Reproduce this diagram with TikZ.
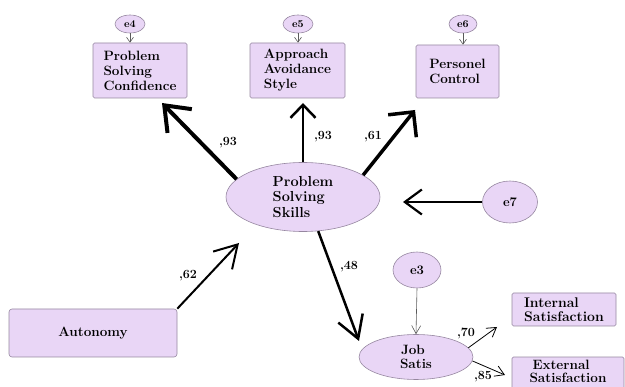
\documentclass[tikz,border=0pt]{standalone}
\usepackage{fontspec}
\usetikzlibrary{shapes.geometric,arrows.meta}
\definecolor{boxfill}{RGB}{233,214,246}
\definecolor{boxline}{RGB}{150,135,160}
\definecolor{thinline}{RGB}{90,90,90}
\newcommand\dgfont[2]{\bfseries\fontsize{#1}{#2}\selectfont\addfontfeatures{LetterSpace=6}}
\tikzset{
  box/.style={draw=boxline, fill=boxfill, rounded corners=1.5pt, line width=0.6pt,
    align=left, inner sep=0pt, font=\dgfont{13.5}{15}},
  lat/.style={ellipse, draw=boxline, fill=boxfill, line width=0.6pt, inner sep=0pt,
    align=left, font=\dgfont{14.5}{15.5}},
  errsmall/.style={ellipse, draw=boxline, fill=boxfill, line width=0.6pt, inner sep=0pt,
    minimum width=30pt, minimum height=18pt, font=\dgfont{10.5}{12}},
  coef/.style={font=\dgfont{12.5}{14}, inner sep=0pt},
  thinarrow/.style={draw=thinline, line width=0.6pt, -{Straight Barb[length=5pt,width=7pt]}},
  midarrow/.style={line width=0.8pt, -{Straight Barb[length=9pt,width=11pt]}}
}
\begin{document}
\begin{tikzpicture}[x=1pt,y=-1pt]
\useasboundingbox (0,0) rectangle (625,387);
% observed boxes
\node[box, minimum width=94pt, minimum height=55pt] (psc) at (140,70.5) {Problem\\Solving\\Confidence};
\node[box, minimum width=95pt, minimum height=55pt] (aas) at (297.5,70.5) {Approach\\Avoidance\\Style};
\node[box, minimum width=83pt, minimum height=53pt] (pc) at (457.5,71.5) {Personel\\Control};
\node[box, rounded corners=3pt, minimum width=168pt, minimum height=48pt] (auto) at (93,333) {Autonomy};
\node[box, font=\dgfont{14}{14}, minimum width=104pt, minimum height=33pt] (is) at (564,309.5) {Internal\\Satisfaction};
% External Satisfaction box runs off the bottom edge
\fill[boxfill] (512,357) rectangle (624,392);
\draw[boxline, line width=0.6pt, rounded corners=1.5pt] (512,392) -- (512,357) -- (624,357) -- (624,392);
\node[box, draw=none, fill=none, font=\dgfont{13.5}{13}, minimum width=112pt, minimum height=29pt, anchor=north] (es) at (568,357)
  {\hspace*{3pt}External\\Satisfaction};
% latent / error ellipses
\node[lat, minimum width=154pt, minimum height=69pt] (pss) at (303,197) {Problem\\Solving\\Skills};
\node[lat, font=\dgfont{13.5}{14}, minimum width=114pt, minimum height=45pt] (js) at (416,357) {\hspace*{1pt}Job\\Satis};
\node[lat, font=\dgfont{13}{15}, minimum width=55pt, minimum height=42pt] (e7) at (510,202) {e7};
\node[lat, font=\dgfont{13}{15}, minimum width=48pt, minimum height=36pt] (e3) at (417,270) {e3};
\node[errsmall] (e4) at (130,24) {e4};
\node[errsmall] (e5) at (298,24) {e5};
\node[errsmall, minimum width=28pt] (e6) at (463,24) {e6};
% free arrow ends
\coordinate (tPSC) at (162,103);
\coordinate (tAAS) at (303,103);
\coordinate (tPC) at (415,110);
\coordinate (tAuto) at (239,243);
\coordinate (tJS) at (359,341);
\coordinate (tE7) at (403,202);
\coordinate (tIS) at (497,327);
\coordinate (tES) at (505,375);
% error arrows
\draw[thinarrow] (e4.south) -- (e4.south |- psc.north);
\draw[thinarrow] (e5.south) -- (e5.south |- aas.north);
\draw[thinarrow] (e6.south) -- (e6.south |- pc.north);
\draw[thinarrow, -{Straight Barb[length=8pt,width=9pt]}] (e3.south) -- (js.north);
% structural arrows
\draw[line width=4pt, -{Straight Barb[length=22pt,width=34pt]}] (pss.165.5) -- (tPSC);
\draw[line width=2.5pt, -{Straight Barb[length=13pt,width=25pt]}] (pss.north) -- (tAAS);
\draw[line width=3.5pt, -{Straight Barb[length=18pt,width=36pt]}] (pss.20.4) -- (tPC);
\draw[line width=2pt, -{Straight Barb[length=22pt,width=26pt]}] (auto.north east) -- (tAuto);
\draw[line width=2.5pt, -{Straight Barb[length=22pt,width=26pt]}] (pss.-66) -- (tJS);
\draw[line width=2.2pt, -{Straight Barb[length=17pt,width=25pt]}] (e7.west) -- (tE7);
\draw[midarrow] (js.10) -- (tIS);
\draw[midarrow] (js.-4) -- (tES);
% coefficients
\node[coef] (c1) at (228,143) {,93};
\node[coef] (c2) at (323,137) {,93};
\node[coef] (c3) at (373,137) {,61};
\node[coef] (c4) at (188,276) {,62};
\node[coef] (c5) at (349,267) {,48};
\node[coef] (c6) at (466,333) {,70};
\node[coef] (c7) at (483,377) {,85};
\end{tikzpicture}
\end{document}
